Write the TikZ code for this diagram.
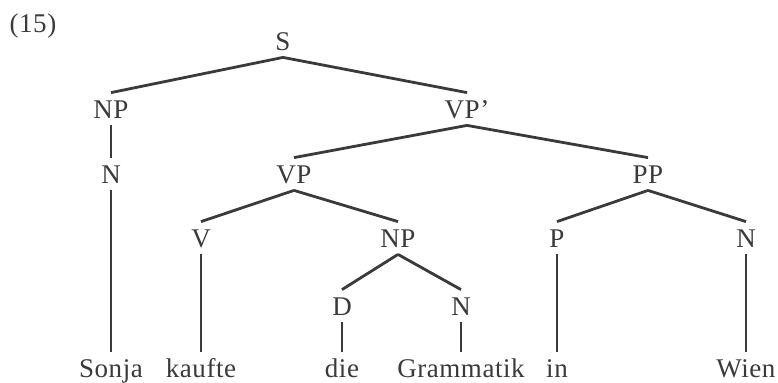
\documentclass[tikz,border=0pt]{standalone}
\usepackage{fontspec}
\setmainfont{Liberation Serif}[LetterSpace=2]
\definecolor{ink}{HTML}{3A3A3A}
\begin{document}
\begin{tikzpicture}[x=0.5pt, y=-0.5pt,
    cat/.style={anchor=base, inner xsep=1pt, inner ysep=3.5pt,
        text height=9pt, text depth=0pt, text=ink,
        font=\fontsize{13.5}{16}\selectfont},
    branch/.style={draw=ink, line width=1.4pt}]

    \useasboundingbox (0,0) rectangle (778,382);

    % example number
    \node[cat] (ex) at (33,32) {(15)};

    % categories
    \node[cat] (s) at (283,50) {S};
    \node[cat] (np) at (111,118) {NP};
    \node[cat] (vpbar) at (467,118) {VP'};
    \node[cat] (n) at (111,183) {N};
    \node[cat] (vp) at (294,183) {VP};
    \node[cat] (pp) at (648,183) {PP};
    \node[cat] (v) at (201,247) {V};
    \node[cat] (npobj) at (398,247) {NP};
    \node[cat] (p) at (557,247) {P};
    \node[cat] (nw) at (746,247) {N};
    \node[cat] (d) at (342,315) {D};
    \node[cat] (nobj) at (461,315) {N};

    % words
    \node[cat] (sonja) at (111,377) {Sonja};
    \node[cat] (kaufte) at (201,377) {kaufte};
    \node[cat] (die) at (342,377) {die};
    \node[cat] (grammatik) at (461,377) {Grammatik};
    \node[cat] (in) at (557,377) {in};
    \node[cat] (wien) at (746,377) {Wien};

    % branches
    \foreach \a/\b in {s/np, s/vpbar, np/n, vpbar/vp, vpbar/pp,
        vp/v, vp/npobj, npobj/d, npobj/nobj, pp/p, pp/nw,
        n/sonja, v/kaufte, d/die, nobj/grammatik, p/in, nw/wien} {
        \draw[branch] (\a.south) -- (\b.north);
    }

\end{tikzpicture}
\end{document}
